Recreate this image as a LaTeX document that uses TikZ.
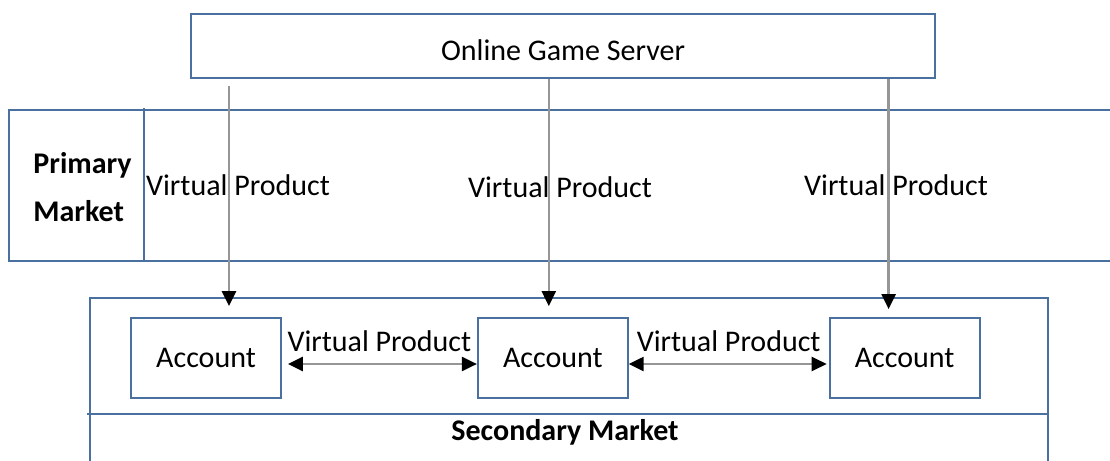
\documentclass[tikz,border=0pt]{standalone}
\usepackage{fontspec}
\setmainfont{Carlito}
\usepackage{xcolor}
\usetikzlibrary{positioning, arrows.meta}
\definecolor{edgeblue}{RGB}{74,112,160}
\definecolor{feedgray}{RGB}{150,150,150}

\begin{document}
\begin{tikzpicture}[
      x=0.5pt, y=-0.5pt,
      node distance=3mm and 97.5pt,
      box/.style={draw=edgeblue, line width=0.9pt, minimum height=32pt, font=\fontsize{15}{18}\selectfont},
      acct/.style={box, minimum width=75pt, minimum height=40pt},
      frame/.style={draw=edgeblue, line width=0.9pt},
      txt/.style={inner sep=0pt, font=\fontsize{15}{18}\selectfont},
      title/.style={inner sep=0pt, align=left, font=\fontsize{15}{24}\selectfont\bfseries},
      arr/.style={draw=feedgray, line width=1.2pt, -{Triangle[length=7.5pt, width=7pt, color=black]}},
      biarr/.style={draw=feedgray, line width=1.2pt, {Triangle[length=7.5pt, width=7pt, color=black]}-{Triangle[length=7.5pt, width=7pt, color=black]}}
    ]
    \useasboundingbox (0,0) rectangle (1110,461);

    % market frames
    \draw[frame] (1114,110) -| (9,261) -- (1114,261);
    \draw[frame] (144,108) -- (144,261);
    \draw[frame] (90,465) |- (1048,298) -- (1048,465);
    \draw[frame] (87,414) -- (1048,414);
    \node[title, anchor=west] (prim) at (33,187) {Primary\\Market};
    \node[txt, font=\fontsize{15}{18}\selectfont\bfseries] (sec) at (565,432) {Secondary Market};

    \node[box, minimum width=372pt, text height=14pt, text depth=0pt] (srv) at (563,46) {Online Game Server};

    \node[acct] (acc1) at (206,358) {Account};
    \node[acct, right=of acc1] (acc2) {Account};
    \node[acct, right=100pt of acc2] (acc3) {Account};

    \coordinate (t1) at ([xshift=11.5pt]acc1.north);
    \coordinate (t2) at ([xshift=-2pt]acc2.north);
    \coordinate (t3) at ([xshift=-8pt]acc3.north);

    \draw[arr, shorten <=3.5pt, shorten >=5.5pt] (t1 |- srv.south) -- (t1);
    \draw[arr, shorten >=5.5pt] (t2 |- srv.south) -- (t2);
    \draw[arr, shorten >=4pt] (t3 |- srv.south) -- (t3);

    \node[txt] (vp1) at (238,185) {Virtual Product};
    \node[txt] (vp2) at (560,187) {Virtual Product};
    \node[txt] (vp3) at (896,185) {Virtual Product};

    \draw[biarr, shorten <=3pt] ([yshift=-3pt]acc1.east) -- node[txt, above=5.5pt] (vp4) {Virtual Product} ([yshift=-3pt]acc2.west);
    \draw[biarr, shorten >=1pt] ([yshift=-3pt]acc2.east) -- node[txt, above=5.5pt] (vp5) {Virtual Product} ([yshift=-3pt]acc3.west);
  \end{tikzpicture}
\end{document}
